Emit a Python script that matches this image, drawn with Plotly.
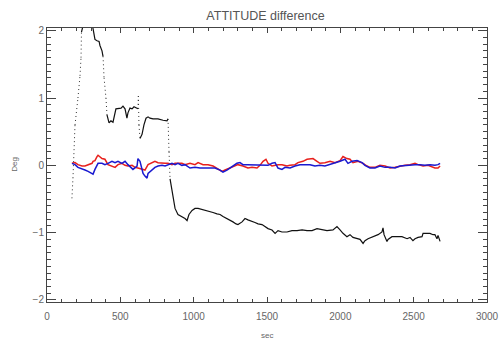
import plotly.graph_objects as go

# Black series (attitude difference, deg)
black_t = [170, 177, 191, 211, 225, 232, 235, 260, 300, 327, 341, 355, 361, 375, 382, 389, 402, 409,
           416, 423, 436, 450, 470, 484, 505, 518, 532, 545, 552, 566, 580, 593, 614, 620, 623, 627,
           634, 648, 661, 675, 689, 702, 723, 757, 791, 818, 825, 832, 839, 852, 859, 873, 893, 920,
           941, 955, 968, 989, 1009, 1030, 1064, 1098, 1132, 1159, 1180, 1200, 1227, 1248, 1268, 1289,
           1302, 1330, 1350, 1370, 1398, 1418, 1439, 1466, 1486, 1507, 1534, 1555, 1575, 1602, 1636,
           1670, 1705, 1739, 1773, 1807, 1841, 1875, 1909, 1950, 1977, 1998, 2018, 2045, 2066, 2086,
           2114, 2134, 2155, 2168, 2189, 2223, 2257, 2284, 2291, 2298, 2318, 2325, 2352, 2386, 2420,
           2455, 2475, 2495, 2509, 2530, 2557, 2564, 2591, 2611, 2632, 2645, 2659, 2666, 2680]
black_v = [-0.49, -0.19, 0.60, 1.00, 1.33, 1.60, 1.98, 2.20, 2.20, 1.87, 1.85, 1.84, 1.78, 1.70, 1.62,
           1.30, 1.00, 0.75, 0.69, 0.63, 0.66, 0.64, 0.84, 0.84, 0.85, 0.88, 0.84, 0.70, 0.78, 0.85,
           0.84, 0.87, 0.84, 0.84, 1.03, 0.60, 0.40, 0.46, 0.60, 0.70, 0.72, 0.70, 0.69, 0.69, 0.67,
           0.66, 0.69, 0.20, -0.20, -0.39, -0.49, -0.64, -0.73, -0.76, -0.79, -0.82, -0.73, -0.67,
           -0.64, -0.64, -0.66, -0.67, -0.70, -0.72, -0.73, -0.76, -0.79, -0.81, -0.84, -0.87, -0.88,
           -0.84, -0.79, -0.81, -0.84, -0.85, -0.87, -0.88, -0.91, -0.94, -0.96, -1.01, -0.97, -0.99,
           -0.99, -0.97, -0.97, -0.96, -0.97, -0.97, -0.94, -0.96, -0.97, -0.96, -0.91, -0.96, -1.01,
           -1.06, -1.03, -1.07, -1.09, -1.10, -1.16, -1.12, -1.09, -1.06, -1.03, -0.99, -0.93, -1.03,
           -1.13, -1.10, -1.06, -1.06, -1.06, -1.09, -1.07, -1.12, -1.09, -1.07, -1.06, -1.01, -1.01,
           -1.01, -1.03, -1.03, -1.09, -1.04, -1.13]

# Red series
red_t = [170, 191, 211, 239, 259, 280, 307, 314, 327, 341, 348, 375, 395, 416, 443, 464, 484, 511,
         532, 552, 580, 600, 620, 648, 668, 689, 716, 736, 757, 784, 805, 825, 852, 873, 893, 920,
         941, 975, 1009, 1030, 1064, 1098, 1132, 1166, 1193, 1214, 1248, 1282, 1302, 1336, 1370,
         1398, 1432, 1452, 1473, 1493, 1507, 1534, 1555, 1575, 1602, 1636, 1657, 1691, 1711, 1745,
         1773, 1793, 1814, 1841, 1861, 1895, 1930, 1964, 1998, 2018, 2045, 2066, 2086, 2120, 2155,
         2182, 2202, 2236, 2270, 2305, 2339, 2373, 2407, 2441, 2475, 2509, 2530, 2564, 2598, 2625,
         2645, 2666, 2680]
red_v = [0.03, 0.04, 0.01, -0.01, -0.01, 0.01, 0.03, 0.06, 0.07, 0.13, 0.15, 0.10, 0.09, 0.01, -0.01,
         -0.03, 0.01, 0.03, 0.00, -0.01, 0.00, -0.03, -0.04, -0.06, -0.07, 0.01, 0.04, 0.06, 0.04,
         0.03, 0.03, 0.03, 0.01, 0.03, 0.03, 0.03, 0.01, 0.03, 0.01, 0.04, 0.01, 0.01, -0.01, -0.06,
         -0.09, -0.07, -0.04, 0.00, 0.01, -0.01, -0.04, -0.03, -0.04, 0.00, 0.06, 0.09, 0.03, -0.01,
         0.00, 0.01, 0.01, -0.01, 0.00, 0.01, 0.04, 0.06, 0.09, 0.10, 0.10, 0.06, 0.03, 0.04, 0.06,
         0.04, 0.07, 0.13, 0.10, 0.09, 0.04, 0.06, 0.03, -0.01, -0.03, -0.03, 0.00, -0.01, -0.04,
         -0.03, -0.01, 0.00, 0.01, 0.03, 0.01, -0.01, 0.00, -0.03, -0.04, -0.04, -0.01]

# Blue series
blue_t = [170, 191, 211, 239, 259, 280, 307, 314, 327, 341, 348, 375, 395, 416, 443, 464, 484, 511,
          532, 552, 573, 586, 614, 620, 634, 648, 655, 668, 682, 689, 716, 736, 757, 784, 805, 825,
          852, 873, 893, 920, 941, 975, 1009, 1043, 1077, 1111, 1145, 1180, 1200, 1227, 1248, 1268,
          1295, 1316, 1336, 1364, 1398, 1432, 1466, 1486, 1507, 1534, 1555, 1575, 1602, 1623, 1657,
          1691, 1725, 1759, 1793, 1827, 1861, 1895, 1930, 1964, 1998, 2032, 2052, 2080, 2114, 2148,
          2168, 2202, 2236, 2270, 2305, 2339, 2373, 2407, 2441, 2475, 2509, 2543, 2577, 2611, 2645,
          2666, 2680]
blue_v = [0.03, 0.01, -0.03, -0.06, -0.07, -0.09, -0.12, -0.13, -0.06, -0.01, 0.03, 0.03, 0.01, 0.03,
          0.06, 0.04, 0.06, 0.03, 0.06, 0.01, -0.04, -0.06, -0.01, 0.10, 0.06, -0.04, -0.12, -0.16,
          -0.19, -0.12, -0.06, -0.03, -0.01, 0.00, -0.01, 0.01, 0.03, 0.01, 0.03, 0.00, 0.01, -0.04,
          -0.03, -0.04, -0.04, -0.03, -0.04, -0.07, -0.10, -0.07, -0.04, 0.00, 0.03, 0.04, 0.01, 0.01,
          0.01, 0.01, 0.00, 0.01, 0.00, 0.03, 0.04, -0.04, -0.06, -0.03, -0.04, -0.01, 0.01, 0.01,
          0.01, -0.01, 0.00, -0.01, 0.01, 0.04, 0.06, 0.09, 0.03, 0.06, 0.07, 0.04, 0.00, -0.04, -0.04,
          -0.01, -0.03, -0.03, -0.04, -0.01, 0.00, 0.01, 0.01, 0.01, 0.00, 0.01, 0.00, 0.01, 0.03]

x_ticks = [0, 500, 1000, 1500, 2000, 2500, 3000]
y_ticks = [-2, -1, 0, 1, 2]

# split black series into solid parts and fast (dotted) transitions
solid_x, solid_y, dot_x, dot_y = [], [], [], []
for i in range(len(black_t) - 1):
    t0, t1 = black_t[i], black_t[i + 1]
    v0, v1 = black_v[i], black_v[i + 1]
    fast = abs(v1 - v0) / (t1 - t0) > 0.015
    if fast:
        dot_x += [t0, t1, None]
        dot_y += [v0, v1, None]
        solid_x.append(None)
        solid_y.append(None)
    else:
        solid_x += [t0, t1]
        solid_y += [v0, v1]

FONT = "Liberation Sans, Arial, sans-serif"

fig = go.Figure()
fig.add_trace(go.Scatter(x=dot_x, y=dot_y, mode="lines",
                         line=dict(color="#333333", width=1, dash="1px,3px")))
fig.add_trace(go.Scatter(x=solid_x, y=solid_y, mode="lines",
                         line=dict(color="#111111", width=1.2)))
fig.add_trace(go.Scatter(x=red_t, y=red_v, mode="lines",
                         line=dict(color="#e8201c", width=1.5)))
fig.add_trace(go.Scatter(x=blue_t, y=blue_v, mode="lines",
                         line=dict(color="#1a1ad0", width=1.5)))

axis_common = dict(showline=True, linecolor="#444444", linewidth=1, mirror="ticks",
                   ticks="inside", tickcolor="#444444", showgrid=False, zeroline=False,
                   automargin=False,
                   tickfont=dict(family=FONT, size=10, color="#666666"))

fig.update_layout(
    width=501, height=340,
    margin=dict(l=47, r=14, t=28, b=38, autoexpand=False),
    paper_bgcolor="white", plot_bgcolor="white",
    showlegend=False,
    title=dict(text="ATTITUDE difference", x=0.53, xanchor="center", y=0.953, yanchor="middle",
               font=dict(family=FONT, size=12.5, color="#555555")),
    xaxis=dict(range=[0, 3000], tickvals=x_ticks, ticklen=5, ticklabelstandoff=5,
               minor=dict(ticks="inside", dtick=100, ticklen=3, tickcolor="#444444"),
               **axis_common),
    yaxis=dict(range=[-2.03, 2.04], tickvals=y_ticks, ticklen=9,
               minor=dict(ticks="inside", dtick=0.1, tick0=0, ticklen=4, tickcolor="#444444"),
               **axis_common),
    annotations=[
        dict(text="sec", xref="paper", yref="paper", x=0.5, y=-0.124, xanchor="center",
             yanchor="middle", showarrow=False, font=dict(family=FONT, size=8, color="#666666")),
        dict(text="Deg", xref="paper", yref="paper", x=-0.073, y=0.504, xanchor="center",
             yanchor="middle", textangle=-90, showarrow=False,
             font=dict(family=FONT, size=8, color="#666666")),
    ],
)

# remove the page's default body margin so the 501x340 figure fills the window exactly
fig.write_html("out.html", config={"displayModeBar": False},
               post_script="document.body.style.margin='0';document.body.style.overflow='hidden';")
